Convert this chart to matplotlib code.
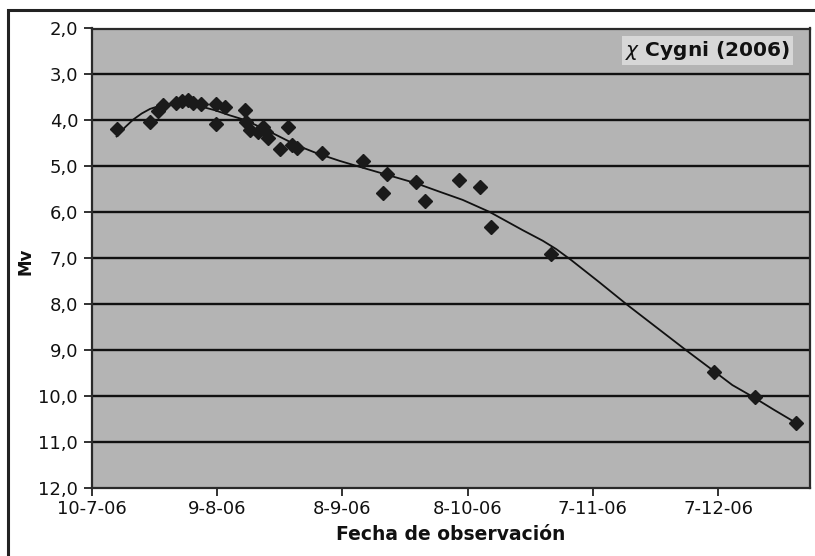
import matplotlib
matplotlib.use("Agg")
import matplotlib.pyplot as plt
from matplotlib.patches import Rectangle

# --- data: days since 10-7-06 and visual magnitude ---
obs_day = [5.9, 13.9, 15.9, 17.1, 20.1, 21.6, 23.0, 24.3, 26.0, 29.7, 31.8,
           29.7, 36.6, 37.0, 37.8, 39.7, 40.9, 41.8, 42.1, 46.9, 45.0, 47.8,
           49.0, 55.0, 64.9, 70.7, 69.7, 77.7, 79.7, 87.8, 93.0, 95.7, 110.0,
           148.9, 158.9, 168.6]
obs_mag = [4.19, 4.03, 3.79, 3.66, 3.63, 3.58, 3.56, 3.62, 3.64, 3.64, 3.71,
           4.08, 3.77, 4.03, 4.21, 4.25, 4.14, 4.25, 4.39, 4.14, 4.62, 4.54,
           4.61, 4.70, 4.88, 5.17, 5.57, 5.35, 5.75, 5.30, 5.46, 6.31, 6.91,
           9.47, 10.03, 10.59]

# trend line
trend_day = [5.9, 7.9, 9.9, 11.9, 13.9, 16.3, 18.7, 22.0, 25.8, 29.5, 33.0,
             36.6, 40.4, 44.2, 49.0, 54.0, 59.3, 64.1, 70.9, 77.7, 83.2, 88.8,
             95.2, 103.2, 108.0, 111.2, 114.8, 121.5, 128.3, 135.3, 142.3,
             148.6, 153.4, 158.2, 163.4, 168.6]
trend_mag = [4.35, 4.15, 3.98, 3.85, 3.75, 3.68, 3.64, 3.63, 3.69, 3.78, 3.89,
             3.99, 4.15, 4.32, 4.54, 4.72, 4.88, 5.01, 5.19, 5.37, 5.55, 5.73,
             5.99, 6.39, 6.62, 6.80, 7.04, 7.52, 8.02, 8.51, 9.00,
             9.43, 9.76, 10.01, 10.30, 10.58]

tick_days = [0, 30, 60, 90, 120, 150]
tick_labels = ['10-7-06', '9-8-06', '8-9-06', '8-10-06', '7-11-06', '7-12-06']
y_ticks = [2, 3, 4, 5, 6, 7, 8, 9, 10, 11, 12]

fig = plt.figure(figsize=(8.15, 5.56), dpi=100)
fig.patch.set_facecolor('white')
ax = fig.add_axes([92 / 815, 1 - 488 / 556, (810 - 92) / 815, (488 - 28.5) / 556])
ax.set_facecolor('#b4b4b4')

# outer frame of the picture (runs off right and bottom)
fig.patches.append(Rectangle((8 / 815, -0.2), 1.2, 1 - 10 / 556 + 0.2,
                             transform=fig.transFigure, fill=False,
                             edgecolor='#222222', linewidth=2.2))

for v in y_ticks[1:-1]:
    ax.axhline(v, color='#111111', lw=1.7, zorder=1)

ax.plot(trend_day, trend_mag, '-', color='#111111', lw=1.3, zorder=2)
ax.plot(obs_day, obs_mag, 'D', color='#1a1a1a', markersize=6.8, zorder=3)

ax.set_xlim(0, 172)
ax.set_ylim(12, 2)
ax.set_xticks(tick_days)
ax.set_xticklabels(tick_labels)
ax.set_yticks(y_ticks)
ax.set_yticklabels([f'{v:.1f}'.replace('.', ',') for v in y_ticks])
ax.tick_params(axis='both', direction='out', length=6, width=1.3,
               color='#222222', labelsize=13, labelcolor='#111111')
ax.tick_params(axis='y', pad=4)
ax.tick_params(axis='x', pad=3)
for s in ax.spines.values():
    s.set_color('#2a2a2a')
    s.set_linewidth(1.6)

ax.set_xlabel('Fecha de observación', fontsize=13.5, fontweight='bold',
              color='#111111', labelpad=5)
fig.text(25 / 815, 1 - 261 / 556, 'Mv', rotation=90, fontsize=12,
         fontweight='bold', ha='center', va='center', color='#111111')

ax.text(0.857, 0.953, r'$\chi$ Cygni (2006)', transform=ax.transAxes,
        ha='center', va='center', fontsize=14.5, fontweight='bold', color='#111111',
        bbox=dict(boxstyle='square,pad=0.15', facecolor='#d7d7d7', edgecolor='none'),
        zorder=4)

fig.savefig('out.png', dpi=100)
